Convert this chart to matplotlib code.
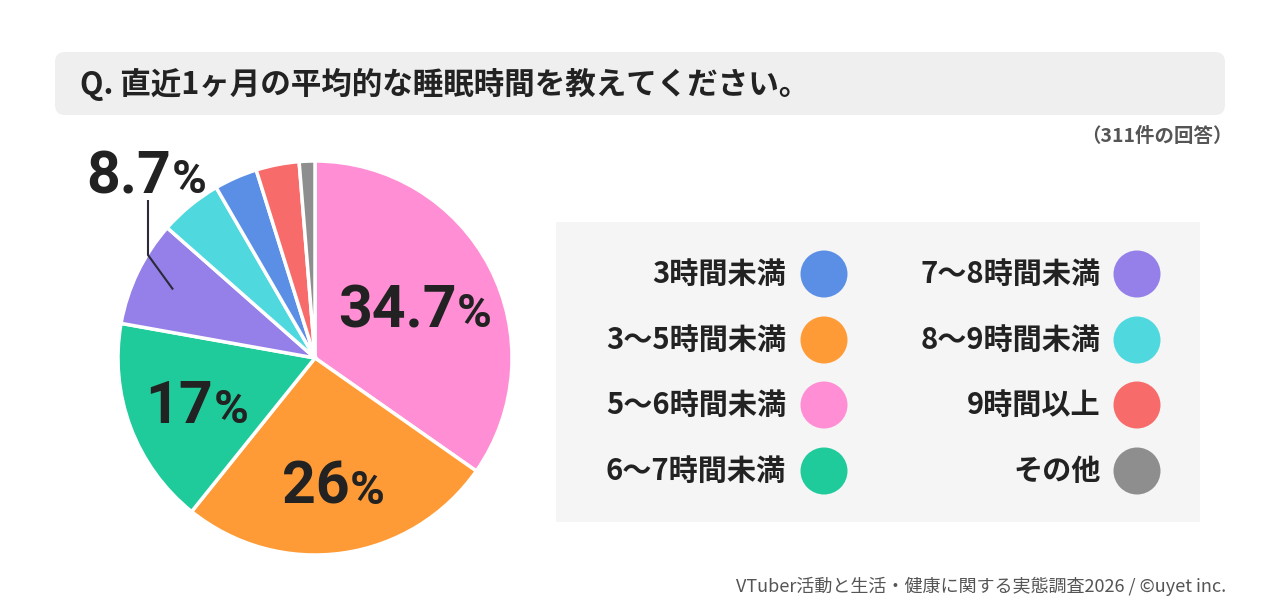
import matplotlib
matplotlib.use("Agg")
import matplotlib.pyplot as plt
from matplotlib.patches import FancyBboxPatch, Rectangle, Circle
import numpy as np

plt.rcParams['font.family'] = ['Noto Sans CJK JP', 'DejaVu Sans']

# ───────── DATA ───────── #
title = "Q. 直近1ヶ月の平均的な睡眠時間を教えてください。"
n_note = "（311件の回答）"
source = "VTuber活動と生活・健康に関する実態調査2026 / ©uyet inc."

legend_labels = ["3時間未満", "3〜5時間未満", "5〜6時間未満", "6〜7時間未満",
                 "7〜8時間未満", "8〜9時間未満", "9時間以上", "その他"]
legend_colors = ["#5B8FE6", "#FF9B36", "#FF8ED4", "#20CB9B",
                 "#9580E9", "#4FD9DE", "#F76B6B", "#8E8E8E"]

# pie order (clockwise from top)
pie_cats = ["5〜6時間未満", "3〜5時間未満", "6〜7時間未満", "7〜8時間未満",
            "8〜9時間未満", "3時間未満", "9時間以上", "その他"]
pie_counts = [108, 81, 53, 27, 16, 11, 11, 4]
pie_labels = ["34.7", "26", "17", "8.7", "", "", "", ""]
# ──────────────────────── #

W, H = 1280, 611
fig = plt.figure(figsize=(W / 100, H / 100), dpi=100)
ax = fig.add_axes([0, 0, 1, 1])


def Y(y):
    return H - y


color_of = dict(zip(legend_labels, legend_colors))
cx, cy, R = 315, Y(358), 197
wedges, _ = ax.pie(pie_counts, colors=[color_of[c] for c in pie_cats],
                   startangle=90, counterclock=False, center=(cx, cy), radius=R,
                   wedgeprops=dict(edgecolor="white", linewidth=2.5))

ax.set_xlim(0, W)
ax.set_ylim(0, H)
ax.set_aspect("auto")
ax.axis("off")
renderer = fig.canvas.get_renderer()

# title bar
ax.add_patch(FancyBboxPatch((55, Y(115)), 1170, 63, boxstyle="round,pad=0,rounding_size=10",
                            fc="#EFEFEF", ec="none"))
ax.text(80, Y(84), title, fontsize=22, fontweight="bold", color="#222222",
        ha="left", va="center")
ax.text(1233, Y(136), n_note, fontsize=14, fontweight="bold", color="#555555",
        ha="right", va="center")

num_font = dict(fontweight="bold", color="#222222", family=["Roboto", "DejaVu Sans"])


def pct_label(x, y, num):
    # x, y: centre of the whole "nn%" label (cap-height centre)
    base = y - 21
    t = ax.text(x, base, num, fontsize=42.5, ha="right", va="baseline", **num_font)
    p = ax.annotate("%", xy=(1, base), xycoords=(t, "data"), xytext=(0.5, 0),
                    textcoords="offset points", fontsize=34, ha="left", va="baseline",
                    **num_font)
    nw = t.get_window_extent(renderer).width
    pw = p.get_window_extent(renderer).width
    t.set_x(x - (nw + pw) / 2 + nw)


# in-slice labels
rfrac = {"34.7": 0.57, "26": 0.64, "17": 0.64}
for w, lab in zip(wedges, pie_labels):
    if lab in rfrac:
        a = np.deg2rad((w.theta1 + w.theta2) / 2)
        pct_label(cx + R * rfrac[lab] * np.cos(a), cy + R * rfrac[lab] * np.sin(a), lab)

# 8.7% callout
w = wedges[pie_labels.index("8.7")]
a = np.deg2rad((w.theta1 + w.theta2) / 2)
ex, ey = cx + R * 0.8 * np.cos(a), cy + R * 0.8 * np.sin(a)
ax.plot([ex, 148, 148], [ey, Y(255), Y(200)], color="#2a2a3a", lw=1.5,
        solid_capstyle="butt", solid_joinstyle="miter")
pct_label(146, Y(172), "8.7")

# legend box
ax.add_patch(Rectangle((556, Y(522)), 644, 300, fc="#F5F5F5", ec="none"))
rows_y = [274, 340, 405, 471]
for i, (lab, col) in enumerate(zip(legend_labels, legend_colors)):
    colx = i // 4
    ry = Y(rows_y[i % 4])
    tx = 786 if colx == 0 else 1101
    ccx = 824 if colx == 0 else 1137
    ax.text(tx, ry, lab, fontsize=21, fontweight="bold", color="#222222",
            ha="right", va="center")
    ax.add_patch(Circle((ccx, ry), 23.5, fc=col, ec="none"))

ax.text(1226, Y(586), source, fontsize=13, color="#555555", ha="right", va="center")

fig.savefig("out.png", dpi=100, facecolor="white")
